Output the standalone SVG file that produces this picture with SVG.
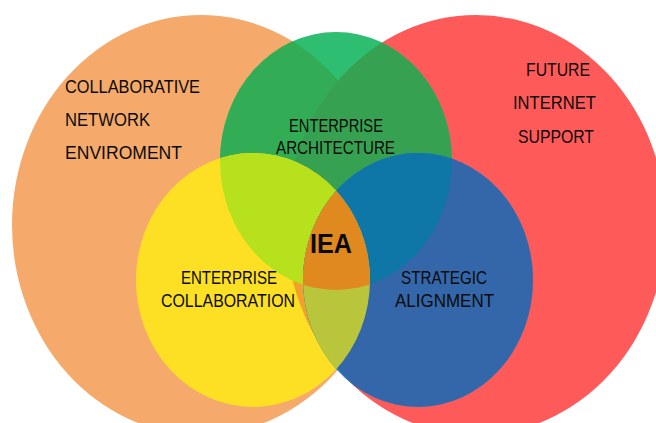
<svg xmlns="http://www.w3.org/2000/svg" width="656" height="423" viewBox="0 0 656 423">
<style>
text{font-family:"Liberation Sans",Arial,sans-serif;font-size:18px;fill:#0a0a0a;}
.iea{font-weight:bold;font-size:28px;}
</style>
<defs>
<clipPath id="cO"><ellipse cx="201" cy="225" rx="189" ry="210"/></clipPath>
<clipPath id="cR"><ellipse cx="476" cy="225" rx="190" ry="210"/></clipPath>
<clipPath id="cG"><ellipse cx="336" cy="161" rx="116" ry="129"/></clipPath>
<clipPath id="cY"><ellipse cx="253" cy="280" rx="117" ry="127"/></clipPath>
<clipPath id="cB"><ellipse cx="418" cy="280" rx="115" ry="127"/></clipPath>
</defs>
<rect width="656" height="423" fill="#ffffff"/>
<g id="collaborative-network"><ellipse cx="201" cy="225" rx="189" ry="210" fill="#f5aa6c"/></g>
<g id="future-internet"><ellipse cx="476" cy="225" rx="190" ry="210" fill="#ff5a5a"/></g>
<g id="enterprise-architecture">
<ellipse cx="336" cy="161" rx="116" ry="129" fill="#2ebe72"/>
<ellipse cx="336" cy="161" rx="116" ry="129" fill="#33ad55" clip-path="url(#cO)"/>
<ellipse cx="336" cy="161" rx="116" ry="129" fill="#37a152" clip-path="url(#cR)"/>
</g>
<g id="enterprise-collaboration">
<ellipse cx="253" cy="280" rx="117" ry="127" fill="#fde024"/>
<ellipse cx="253" cy="280" rx="117" ry="127" fill="#f2a02c" clip-path="url(#cR)"/>
<ellipse cx="253" cy="280" rx="117" ry="127" fill="#b7e11c" clip-path="url(#cG)"/>
</g>
<g id="strategic-alignment">
<ellipse cx="418" cy="280" rx="115" ry="127" fill="#3b8fd0"/>
<ellipse cx="418" cy="280" rx="115" ry="127" fill="#3467a9" clip-path="url(#cR)"/>
<ellipse cx="418" cy="280" rx="115" ry="127" fill="#0e77a7" clip-path="url(#cG)"/>
<ellipse cx="253" cy="280" rx="117" ry="127" fill="#b9c63c" clip-path="url(#cB)"/>
</g>
<g id="iea">
<g clip-path="url(#cG)"><ellipse cx="253" cy="280" rx="117" ry="127" fill="#e0891f" clip-path="url(#cB)"/></g>
</g>
<g id="labels">
<text x="65" y="93" textLength="135" lengthAdjust="spacingAndGlyphs">COLLABORATIVE</text>
<text x="65" y="126" textLength="85" lengthAdjust="spacingAndGlyphs">NETWORK</text>
<text x="65" y="159" textLength="117" lengthAdjust="spacingAndGlyphs">ENVIROMENT</text>
<text x="526" y="76" textLength="64" lengthAdjust="spacingAndGlyphs">FUTURE</text>
<text x="513" y="109" textLength="83" lengthAdjust="spacingAndGlyphs">INTERNET</text>
<text x="518" y="143" textLength="76" lengthAdjust="spacingAndGlyphs">SUPPORT</text>
<text x="289" y="132" textLength="94" lengthAdjust="spacingAndGlyphs">ENTERPRISE</text>
<text x="276" y="154" textLength="119" lengthAdjust="spacingAndGlyphs">ARCHITECTURE</text>
<text class="iea" x="310" y="253" textLength="42" lengthAdjust="spacingAndGlyphs">IEA</text>
<text x="181" y="284" textLength="96" lengthAdjust="spacingAndGlyphs">ENTERPRISE</text>
<text x="161" y="307" textLength="134" lengthAdjust="spacingAndGlyphs">COLLABORATION</text>
<text x="401" y="284" textLength="86" lengthAdjust="spacingAndGlyphs">STRATEGIC</text>
<text x="395" y="307" textLength="99" lengthAdjust="spacingAndGlyphs">ALIGNMENT</text>
</g>
</svg>
